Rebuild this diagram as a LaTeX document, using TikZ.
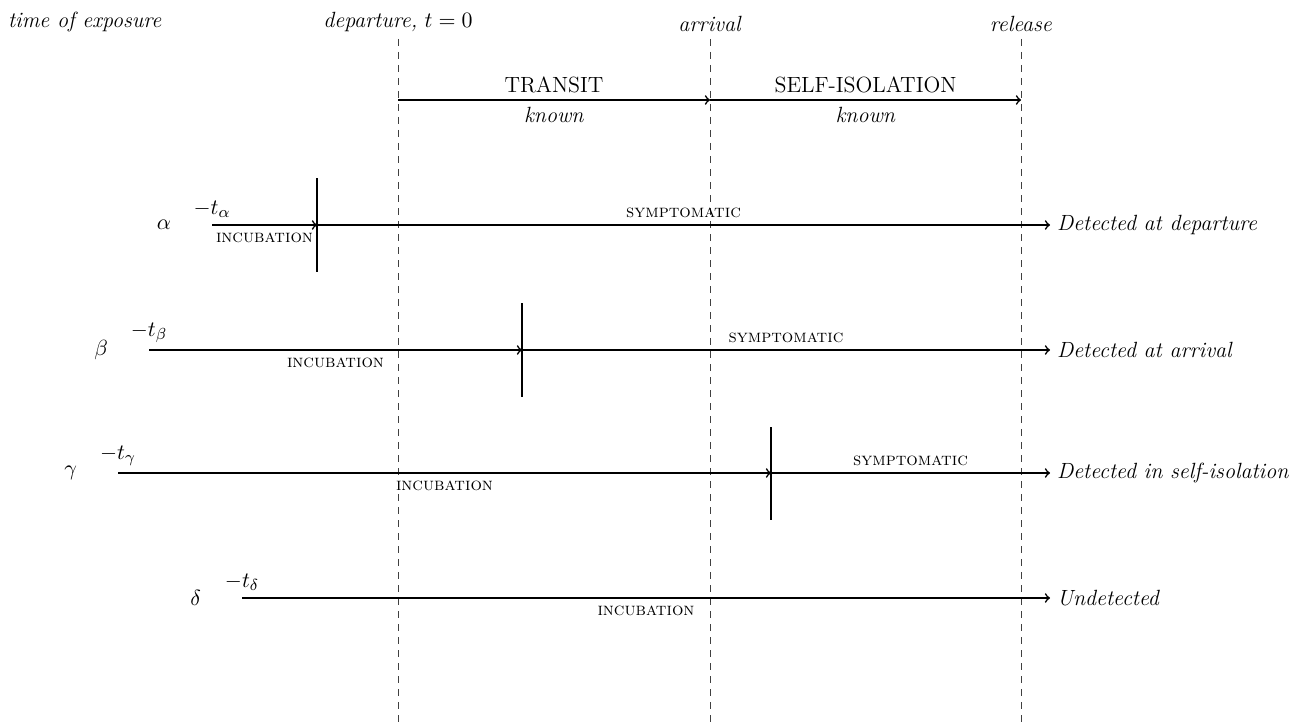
\documentclass[tikz,border=0pt]{standalone}
\begin{document}
\begin{tikzpicture}[x=0.5pt,y=-0.5pt,
  every node/.style={font=\fontsize{11}{13}\selectfont},
  tl/.style={line width=0.8pt,->},
  dl/.style={dash pattern=on 3.5pt off 3pt,line width=0.5pt,black!75},
  barline/.style={line width=0.55pt},
  sc/.style={font=\fontsize{9}{11}\selectfont\scshape},
  lab/.style={font=\fontsize{11}{13}\selectfont\itshape}]
\useasboundingbox (0,0) rectangle (1306,722);

% dashed time markers
\coordinate (depT) at (398,39);  \coordinate (depB) at (398,740);
\coordinate (arrT) at (710,39);  \coordinate (arrB) at (710,740);
\coordinate (relT) at (1021,39); \coordinate (relB) at (1021,740);
\draw[dl] (depT) -- (depB);
\draw[dl] (arrT) -- (arrB);
\draw[dl] (relT) -- (relB);
\node[above] (ldep) at (depT) {\textit{departure,} $t=0$};
\node[above] (larr) at (arrT) {\textit{arrival}};
\node[above] (lrel) at (relT) {\textit{release}};
\coordinate (expo) at (1,39);
\node[anchor=south west] (lexp) at (expo) {\textit{time of exposure}};

% transit / self-isolation
\coordinate (tA) at (398,100); \coordinate (tB) at (710,100); \coordinate (tC) at (1021,100);
\draw[tl] (tA) -- node[above] (ltr) {TRANSIT} node[below] (ltrk) {\textit{known}} (tB);
\draw[tl] (tB) -- node[above] (lsi) {SELF-ISOLATION} node[below] (lsik) {\textit{known}} (tC);

% alpha
\coordinate (a0) at (212,225); \coordinate (a1) at (317,225); \coordinate (a2) at (1050,225);
\coordinate (a1t) at (317,178); \coordinate (a1b) at (317,272);
\node[left=17pt] (aL) at (a0) {$\alpha$};
\node[above] (aT) at (a0) {$-t_\alpha$};
\draw[tl] (a0) -- node[below,sc] (aI) {incubation} (a1);
\draw[tl] (a1) -- node[above,sc] (aS) {symptomatic} (a2);
\draw[barline] (a1t) -- (a1b);
\node[right,lab] (aD) at (a2) {Detected at departure};

% beta
\coordinate (b0) at (149,350); \coordinate (b1) at (522,350); \coordinate (b2) at (1050,350);
\coordinate (b1t) at (522,303); \coordinate (b1b) at (522,397);
\node[left=17pt] (bL) at (b0) {$\beta$};
\node[above] (bT) at (b0) {$-t_\beta$};
\draw[tl] (b0) -- node[below,sc] (bI) {incubation} (b1);
\draw[tl] (b1) -- node[above,sc] (bS) {symptomatic} (b2);
\draw[barline] (b1t) -- (b1b);
\node[right,lab] (bD) at (b2) {Detected at arrival};

% gamma
\coordinate (c0) at (118,473); \coordinate (c1) at (771,473); \coordinate (c2) at (1050,473);
\coordinate (c1t) at (771,427); \coordinate (c1b) at (771,520);
\node[left=17pt] (cL) at (c0) {$\gamma$};
\node[above] (cT) at (c0) {$-t_\gamma$};
\draw[tl] (c0) -- node[below,sc] (cI) {incubation} (c1);
\draw[tl] (c1) -- node[above,sc] (cS) {symptomatic} (c2);
\draw[barline] (c1t) -- (c1b);
\node[right,lab] (cD) at (c2) {Detected in self-isolation};

% delta
\coordinate (d0) at (242,598); \coordinate (d2) at (1050,598);
\node[left=17pt] (dL) at (d0) {$\delta$};
\node[above] (dT) at (d0) {$-t_\delta$};
\draw[tl] (d0) -- node[below,sc] (dI) {incubation} (d2);
\node[right,lab] (dD) at (d2) {Undetected};
\end{tikzpicture}
\end{document}
